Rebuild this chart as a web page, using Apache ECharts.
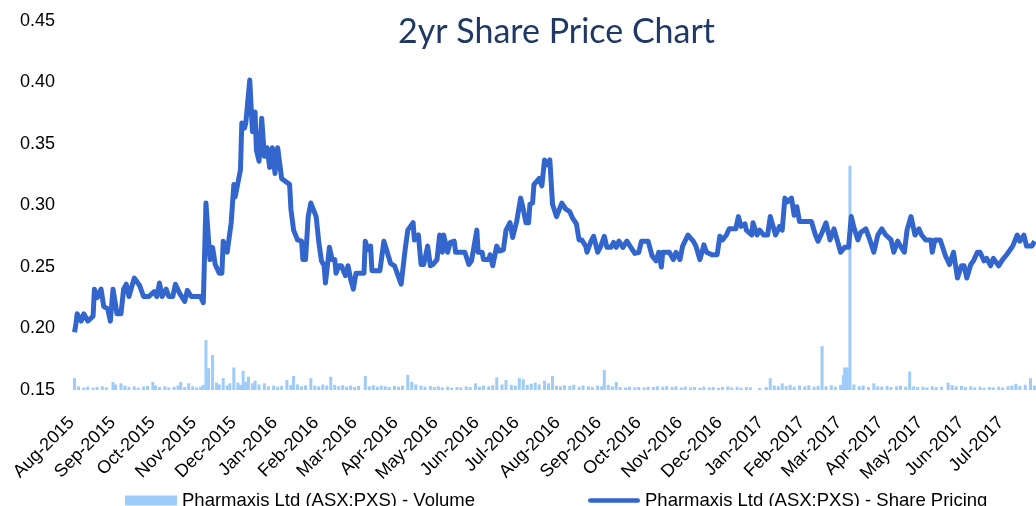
<!DOCTYPE html>
<html>
<head>
<meta charset="utf-8">
<title>2yr Share Price Chart</title>
<script src="https://cdn.jsdelivr.net/npm/echarts@6/dist/echarts.min.js"></script>
<style>
  html, body { margin: 0; padding: 0; background: #fff; }
  #chart { width: 1036px; height: 506px; }
</style>
</head>
<body>
<div id="chart"></div>
<script>
// month names used for the x axis tick labels
var monthNames = ['Jan', 'Feb', 'Mar', 'Apr', 'May', 'Jun', 'Jul', 'Aug', 'Sep', 'Oct', 'Nov', 'Dec'];

var axisStart = '2015-08-01';
var axisEnd = '2017-07-24';

// share price (AUD)
var priceData = [
  ['2015-08-01', 0.197], ['2015-08-02', 0.203], ['2015-08-03', 0.212], ['2015-08-06', 0.206],
  ['2015-08-08', 0.212], ['2015-08-11', 0.206], ['2015-08-15', 0.210], ['2015-08-16', 0.232],
  ['2015-08-18', 0.225], ['2015-08-21', 0.232], ['2015-08-23', 0.218], ['2015-08-26', 0.216],
  ['2015-08-28', 0.206], ['2015-08-30', 0.232], ['2015-09-02', 0.212], ['2015-09-05', 0.212],
  ['2015-09-07', 0.232], ['2015-09-09', 0.236], ['2015-09-11', 0.226], ['2015-09-15', 0.241],
  ['2015-09-19', 0.235], ['2015-09-22', 0.226], ['2015-09-26', 0.226], ['2015-09-30', 0.230],
  ['2015-10-02', 0.226], ['2015-10-04', 0.237], ['2015-10-06', 0.226], ['2015-10-09', 0.232],
  ['2015-10-11', 0.226], ['2015-10-14', 0.226], ['2015-10-16', 0.236], ['2015-10-19', 0.229],
  ['2015-10-23', 0.222], ['2015-10-25', 0.231], ['2015-10-28', 0.226], ['2015-11-04', 0.226],
  ['2015-11-06', 0.221], ['2015-11-08', 0.302], ['2015-11-11', 0.256], ['2015-11-13', 0.266],
  ['2015-11-15', 0.252], ['2015-11-18', 0.245], ['2015-11-20', 0.245], ['2015-11-21', 0.271],
  ['2015-11-24', 0.262], ['2015-11-27', 0.286], ['2015-11-29', 0.317], ['2015-11-30', 0.307],
  ['2015-12-04', 0.329], ['2015-12-05', 0.367], ['2015-12-07', 0.363], ['2015-12-08', 0.367],
  ['2015-12-11', 0.402], ['2015-12-13', 0.360], ['2015-12-15', 0.376], ['2015-12-16', 0.345],
  ['2015-12-18', 0.336], ['2015-12-20', 0.371], ['2015-12-22', 0.340], ['2015-12-24', 0.347],
  ['2015-12-26', 0.331], ['2015-12-28', 0.347], ['2015-12-30', 0.326], ['2016-01-01', 0.347],
  ['2016-01-04', 0.322], ['2016-01-10', 0.317], ['2016-01-11', 0.297], ['2016-01-13', 0.280],
  ['2016-01-16', 0.272], ['2016-01-19', 0.271], ['2016-01-20', 0.256], ['2016-01-22', 0.256],
  ['2016-01-24', 0.291], ['2016-01-26', 0.302], ['2016-01-30', 0.291], ['2016-02-01', 0.270],
  ['2016-02-03', 0.255], ['2016-02-05', 0.251], ['2016-02-06', 0.237], ['2016-02-09', 0.266],
  ['2016-02-11', 0.256], ['2016-02-13', 0.256], ['2016-02-14', 0.245], ['2016-02-16', 0.251],
  ['2016-02-18', 0.251], ['2016-02-21', 0.243], ['2016-02-23', 0.251], ['2016-02-25', 0.240],
  ['2016-02-27', 0.232], ['2016-02-29', 0.245], ['2016-03-06', 0.245], ['2016-03-07', 0.271],
  ['2016-03-09', 0.264], ['2016-03-11', 0.267], ['2016-03-12', 0.247], ['2016-03-18', 0.247],
  ['2016-03-21', 0.271], ['2016-03-23', 0.264], ['2016-03-26', 0.253], ['2016-03-29', 0.251],
  ['2016-03-31', 0.245], ['2016-04-03', 0.236], ['2016-04-06', 0.264], ['2016-04-08', 0.280],
  ['2016-04-09', 0.280], ['2016-04-12', 0.286], ['2016-04-13', 0.272], ['2016-04-16', 0.276],
  ['2016-04-18', 0.252], ['2016-04-20', 0.252], ['2016-04-23', 0.267], ['2016-04-25', 0.251],
  ['2016-04-27', 0.252], ['2016-04-30', 0.256], ['2016-05-02', 0.276], ['2016-05-04', 0.262],
  ['2016-05-05', 0.276], ['2016-05-08', 0.262], ['2016-05-10', 0.270], ['2016-05-13', 0.271],
  ['2016-05-14', 0.262], ['2016-05-21', 0.262], ['2016-05-24', 0.252], ['2016-05-26', 0.255],
  ['2016-05-30', 0.280], ['2016-05-31', 0.262], ['2016-06-03', 0.262], ['2016-06-04', 0.256],
  ['2016-06-08', 0.256], ['2016-06-09', 0.260], ['2016-06-11', 0.251], ['2016-06-14', 0.267],
  ['2016-06-16', 0.263], ['2016-06-19', 0.264], ['2016-06-21', 0.280], ['2016-06-24', 0.286],
  ['2016-06-26', 0.274], ['2016-06-29', 0.287], ['2016-07-02', 0.306], ['2016-07-04', 0.297],
  ['2016-07-06', 0.286], ['2016-07-08', 0.286], ['2016-07-09', 0.301], ['2016-07-11', 0.302],
  ['2016-07-12', 0.317], ['2016-07-16', 0.322], ['2016-07-18', 0.316], ['2016-07-20', 0.337],
  ['2016-07-22', 0.333], ['2016-07-24', 0.337], ['2016-07-26', 0.301], ['2016-07-29', 0.291],
  ['2016-08-02', 0.302], ['2016-08-05', 0.297], ['2016-08-08', 0.295], ['2016-08-10', 0.290],
  ['2016-08-13', 0.285], ['2016-08-15', 0.272], ['2016-08-17', 0.272], ['2016-08-20', 0.267],
  ['2016-08-21', 0.262], ['2016-08-24', 0.271], ['2016-08-26', 0.275], ['2016-08-29', 0.262],
  ['2016-08-31', 0.266], ['2016-09-03', 0.275], ['2016-09-05', 0.266], ['2016-09-08', 0.266],
  ['2016-09-10', 0.270], ['2016-09-12', 0.266], ['2016-09-14', 0.271], ['2016-09-17', 0.266],
  ['2016-09-20', 0.271], ['2016-09-23', 0.266], ['2016-09-26', 0.261], ['2016-09-29', 0.262],
  ['2016-10-01', 0.271], ['2016-10-06', 0.271], ['2016-10-09', 0.259], ['2016-10-12', 0.255],
  ['2016-10-14', 0.262], ['2016-10-16', 0.250], ['2016-10-17', 0.262], ['2016-10-22', 0.262],
  ['2016-10-25', 0.256], ['2016-10-27', 0.262], ['2016-10-30', 0.256], ['2016-11-01', 0.267],
  ['2016-11-05', 0.276], ['2016-11-09', 0.271], ['2016-11-11', 0.267], ['2016-11-14', 0.256],
  ['2016-11-17', 0.268], ['2016-11-19', 0.262], ['2016-11-23', 0.260], ['2016-11-27', 0.260],
  ['2016-11-29', 0.275], ['2016-12-01', 0.272], ['2016-12-04', 0.276], ['2016-12-06', 0.281],
  ['2016-12-11', 0.281], ['2016-12-13', 0.291], ['2016-12-15', 0.283], ['2016-12-18', 0.285],
  ['2016-12-19', 0.280], ['2016-12-23', 0.276], ['2016-12-24', 0.286], ['2016-12-27', 0.276],
  ['2016-12-29', 0.280], ['2017-01-01', 0.276], ['2017-01-04', 0.276], ['2017-01-06', 0.291],
  ['2017-01-10', 0.276], ['2017-01-13', 0.283], ['2017-01-15', 0.280], ['2017-01-17', 0.306],
  ['2017-01-19', 0.303], ['2017-01-22', 0.306], ['2017-01-24', 0.292], ['2017-01-26', 0.299],
  ['2017-01-28', 0.287], ['2017-02-06', 0.287], ['2017-02-09', 0.276], ['2017-02-11', 0.271],
  ['2017-02-14', 0.278], ['2017-02-17', 0.286], ['2017-02-20', 0.272], ['2017-02-23', 0.281],
  ['2017-02-28', 0.262], ['2017-03-03', 0.266], ['2017-03-06', 0.266], ['2017-03-08', 0.291],
  ['2017-03-10', 0.282], ['2017-03-13', 0.272], ['2017-03-15', 0.278], ['2017-03-19', 0.281],
  ['2017-03-22', 0.272], ['2017-03-25', 0.262], ['2017-03-28', 0.276], ['2017-03-31', 0.281],
  ['2017-04-03', 0.276], ['2017-04-07', 0.272], ['2017-04-09', 0.262], ['2017-04-12', 0.271],
  ['2017-04-14', 0.267], ['2017-04-17', 0.262], ['2017-04-19', 0.280], ['2017-04-22', 0.291],
  ['2017-04-25', 0.276], ['2017-04-28', 0.281], ['2017-04-30', 0.276], ['2017-05-03', 0.272],
  ['2017-05-07', 0.272], ['2017-05-08', 0.262], ['2017-05-10', 0.272], ['2017-05-14', 0.272],
  ['2017-05-18', 0.259], ['2017-05-21', 0.252], ['2017-05-24', 0.262], ['2017-05-27', 0.241],
  ['2017-05-30', 0.251], ['2017-06-01', 0.251], ['2017-06-03', 0.241], ['2017-06-06', 0.252],
  ['2017-06-08', 0.255], ['2017-06-11', 0.262], ['2017-06-13', 0.262], ['2017-06-16', 0.255],
  ['2017-06-18', 0.257], ['2017-06-21', 0.251], ['2017-06-23', 0.257], ['2017-06-27', 0.251],
  ['2017-06-30', 0.256], ['2017-07-03', 0.260], ['2017-07-07', 0.266], ['2017-07-08', 0.268],
  ['2017-07-11', 0.276], ['2017-07-13', 0.271], ['2017-07-16', 0.276], ['2017-07-18', 0.267],
  ['2017-07-22', 0.267], ['2017-07-24', 0.271]
];

// traded volume (millions of shares)
var volumeData = [
  ['2015-08-01', 0.32], ['2015-08-04', 0.10], ['2015-08-08', 0.07], ['2015-08-11', 0.09], ['2015-08-15', 0.06],
  ['2015-08-18', 0.08], ['2015-08-22', 0.10], ['2015-08-25', 0.07], ['2015-08-30', 0.22],
  ['2015-09-01', 0.15], ['2015-09-05', 0.18], ['2015-09-08', 0.12], ['2015-09-11', 0.08], ['2015-09-15', 0.10],
  ['2015-09-18', 0.06], ['2015-09-22', 0.09], ['2015-09-25', 0.11], ['2015-09-29', 0.22],
  ['2015-10-01', 0.12], ['2015-10-04', 0.08], ['2015-10-08', 0.10], ['2015-10-11', 0.07], ['2015-10-15', 0.09],
  ['2015-10-18', 0.12], ['2015-10-20', 0.22], ['2015-10-23', 0.08], ['2015-10-26', 0.18], ['2015-10-29', 0.10],
  ['2015-11-01', 0.07], ['2015-11-04', 0.09], ['2015-11-06', 0.14], ['2015-11-08', 1.35], ['2015-11-10', 0.59],
  ['2015-11-13', 0.95], ['2015-11-16', 0.20], ['2015-11-18', 0.15], ['2015-11-21', 0.32], ['2015-11-24', 0.12],
  ['2015-11-26', 0.18], ['2015-11-29', 0.61],
  ['2015-12-02', 0.20], ['2015-12-04', 0.14], ['2015-12-06', 0.52], ['2015-12-08', 0.22], ['2015-12-10', 0.36],
  ['2015-12-13', 0.18], ['2015-12-15', 0.25], ['2015-12-18', 0.15], ['2015-12-22', 0.18], ['2015-12-25', 0.10],
  ['2015-12-29', 0.12],
  ['2016-01-01', 0.09], ['2016-01-04', 0.11], ['2016-01-08', 0.27], ['2016-01-11', 0.14], ['2016-01-13', 0.38],
  ['2016-01-16', 0.15], ['2016-01-19', 0.10], ['2016-01-22', 0.13], ['2016-01-26', 0.32], ['2016-01-29', 0.12],
  ['2016-02-01', 0.10], ['2016-02-04', 0.15], ['2016-02-07', 0.12], ['2016-02-10', 0.36], ['2016-02-13', 0.14],
  ['2016-02-16', 0.10], ['2016-02-19', 0.13], ['2016-02-22', 0.09], ['2016-02-25', 0.12], ['2016-02-28', 0.08],
  ['2016-03-02', 0.11], ['2016-03-07', 0.38], ['2016-03-10', 0.10], ['2016-03-13', 0.13], ['2016-03-16', 0.09],
  ['2016-03-19', 0.12], ['2016-03-22', 0.10], ['2016-03-25', 0.08], ['2016-03-29', 0.11],
  ['2016-04-01', 0.09], ['2016-04-04', 0.12], ['2016-04-08', 0.41], ['2016-04-11', 0.22], ['2016-04-14', 0.15],
  ['2016-04-18', 0.12], ['2016-04-21', 0.09], ['2016-04-25', 0.11], ['2016-04-28', 0.08],
  ['2016-05-01', 0.10], ['2016-05-04', 0.07], ['2016-05-08', 0.09], ['2016-05-11', 0.06], ['2016-05-15', 0.08],
  ['2016-05-18', 0.07], ['2016-05-22', 0.10], ['2016-05-25', 0.08], ['2016-05-29', 0.18],
  ['2016-06-01', 0.09], ['2016-06-04', 0.12], ['2016-06-08', 0.10], ['2016-06-11', 0.13], ['2016-06-14', 0.34],
  ['2016-06-18', 0.15], ['2016-06-21', 0.27], ['2016-06-25', 0.14], ['2016-06-28', 0.12],
  ['2016-07-01', 0.32], ['2016-07-04', 0.29], ['2016-07-07', 0.14], ['2016-07-10', 0.17], ['2016-07-13', 0.20],
  ['2016-07-16', 0.15], ['2016-07-20', 0.25], ['2016-07-23', 0.18], ['2016-07-26', 0.38], ['2016-07-29', 0.12],
  ['2016-08-01', 0.10], ['2016-08-04', 0.13], ['2016-08-08', 0.11], ['2016-08-11', 0.14], ['2016-08-15', 0.09],
  ['2016-08-18', 0.12], ['2016-08-22', 0.10], ['2016-08-25', 0.08], ['2016-08-29', 0.12],
  ['2016-09-01', 0.10], ['2016-09-03', 0.54], ['2016-09-06', 0.14], ['2016-09-09', 0.10], ['2016-09-12', 0.22],
  ['2016-09-15', 0.08], ['2016-09-19', 0.07], ['2016-09-22', 0.09], ['2016-09-26', 0.07], ['2016-09-29', 0.08],
  ['2016-10-03', 0.07], ['2016-10-06', 0.09], ['2016-10-10', 0.08], ['2016-10-13', 0.10], ['2016-10-17', 0.09],
  ['2016-10-20', 0.11], ['2016-10-24', 0.08], ['2016-10-27', 0.10], ['2016-10-31', 0.07],
  ['2016-11-03', 0.09], ['2016-11-07', 0.07], ['2016-11-10', 0.08], ['2016-11-14', 0.06], ['2016-11-17', 0.09],
  ['2016-11-21', 0.07], ['2016-11-24', 0.08], ['2016-11-28', 0.06],
  ['2016-12-01', 0.08], ['2016-12-05', 0.10], ['2016-12-08', 0.07], ['2016-12-12', 0.09], ['2016-12-15', 0.06],
  ['2016-12-19', 0.08], ['2016-12-22', 0.07], ['2016-12-29', 0.05],
  ['2017-01-03', 0.08], ['2017-01-06', 0.32], ['2017-01-09', 0.12], ['2017-01-12', 0.10], ['2017-01-15', 0.18],
  ['2017-01-18', 0.11], ['2017-01-21', 0.14], ['2017-01-24', 0.09], ['2017-01-28', 0.12],
  ['2017-02-01', 0.10], ['2017-02-04', 0.13], ['2017-02-08', 0.09], ['2017-02-11', 0.11], ['2017-02-14', 1.19],
  ['2017-02-17', 0.10], ['2017-02-21', 0.13], ['2017-02-24', 0.09], ['2017-02-28', 0.14],
  ['2017-03-02', 0.40], ['2017-03-03', 0.61], ['2017-03-05', 0.61], ['2017-03-07', 6.08], ['2017-03-10', 0.15],
  ['2017-03-14', 0.10], ['2017-03-17', 0.12], ['2017-03-21', 0.08], ['2017-03-25', 0.18], ['2017-03-28', 0.10],
  ['2017-03-31', 0.09],
  ['2017-04-04', 0.11], ['2017-04-07', 0.08], ['2017-04-11', 0.10], ['2017-04-14', 0.12], ['2017-04-18', 0.09],
  ['2017-04-21', 0.50], ['2017-04-24', 0.10], ['2017-04-27', 0.08],
  ['2017-05-01', 0.09], ['2017-05-04', 0.07], ['2017-05-08', 0.10], ['2017-05-11', 0.08], ['2017-05-15', 0.09],
  ['2017-05-20', 0.20], ['2017-05-23', 0.13], ['2017-05-26', 0.10], ['2017-05-30', 0.11],
  ['2017-06-02', 0.08], ['2017-06-06', 0.10], ['2017-06-09', 0.07], ['2017-06-13', 0.09], ['2017-06-16', 0.06],
  ['2017-06-20', 0.08], ['2017-06-23', 0.07], ['2017-06-27', 0.09], ['2017-06-30', 0.07],
  ['2017-07-04', 0.10], ['2017-07-07', 0.12], ['2017-07-10', 0.17], ['2017-07-13', 0.11], ['2017-07-17', 0.14],
  ['2017-07-21', 0.32], ['2017-07-24', 0.12]
];

var DAY = 24 * 3600 * 1000;

var chart = echarts.init(document.getElementById('chart'));
chart.setOption({
  backgroundColor: '#fff',
  animation: false,
  title: {
    text: '2yr Share Price Chart',
    left: 393,
    top: 10,
    textStyle: {
      fontFamily: 'Lato',
      fontWeight: 'normal',
      fontSize: 34,
      color: '#1F3864'
    }
  },
  legend: {
    left: 120,
    top: 486,
    itemWidth: 52,
    itemHeight: 10,
    itemGap: 113,
    textStyle: {
      fontFamily: 'Liberation Sans',
      fontSize: 18.5,
      color: '#000'
    },
    data: [
      { name: 'Pharmaxis Ltd (ASX:PXS) - Volume', icon: 'rect' },
      { name: 'Pharmaxis Ltd (ASX:PXS) - Share Pricing', icon: 'path://M2,0 L52,0 A2.5,2.5 0 0 1 52,5 L2,5 A2.5,2.5 0 0 1 2,0 Z' }
    ]
  },
  grid: {
    left: 73,
    right: 0,
    top: 21,
    bottom: 116,
    outerBoundsMode: 'none'
  },
  xAxis: {
    type: 'time',
    min: axisStart,
    max: axisEnd,
    minInterval: 28 * DAY,
    maxInterval: 31 * DAY,
    axisLine: { show: false },
    axisTick: { show: false },
    splitLine: { show: false },
    axisLabel: {
      rotate: 45,
      margin: 27,
      padding: [0, 4, 0, 0],
      fontFamily: 'Liberation Sans',
      fontSize: 18,
      color: '#000',
      formatter: function (val) {
        var d = new Date(val)
        return monthNames[d.getMonth()] + '-' + d.getFullYear()
      }
    }
  },
  yAxis: [
    {
      type: 'value',
      min: 0.15,
      max: 0.45,
      interval: 0.05,
      axisLine: { show: false },
      axisTick: { show: false },
      splitLine: { show: false },
      axisLabel: {
        margin: 18,
        fontFamily: 'Liberation Sans',
        fontSize: 18,
        color: '#000',
        formatter: function (val) {
          return val.toFixed(2)
        }
      }
    },
    {
      type: 'value',
      min: 0,
      max: 10,
      show: false
    }
  ],
  series: [
    {
      name: 'Pharmaxis Ltd (ASX:PXS) - Volume',
      type: 'bar',
      yAxisIndex: 1,
      barWidth: 3,
      itemStyle: { color: '#9DCBFA' },
      data: volumeData
    },
    {
      name: 'Pharmaxis Ltd (ASX:PXS) - Share Pricing',
      type: 'line',
      symbol: 'none',
      lineStyle: { color: '#3366CC', width: 5, join: 'round' },
      itemStyle: { color: '#3366CC' },
      data: priceData
    }
  ]
})
</script>
</body>
</html>
